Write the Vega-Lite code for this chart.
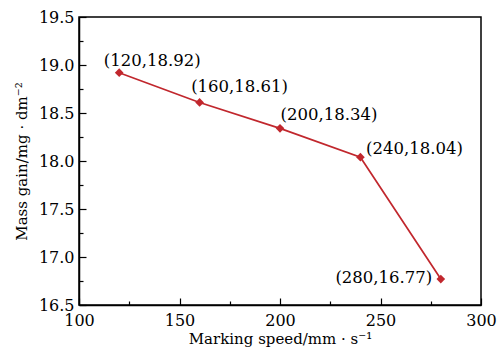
{
  "$schema": "https://vega.github.io/schema/vega-lite/v6.json",
  "width": 402,
  "height": 288,
  "autosize": {"type": "none"},
  "padding": {"left": 79, "top": 17, "right": 22, "bottom": 45},
  "background": "white",
  "config": {
    "view": {"stroke": "black", "strokeWidth": 1.5},
    "font": "DejaVu Serif",
    "axis": {
      "domainColor": "black",
      "domainWidth": 1.5,
      "tickColor": "black",
      "tickWidth": 1.2,
      "grid": false,
      "labelColor": "black",
      "labelFontSize": 16,
      "labelFont": "DejaVu Serif",
      "titleFont": "DejaVu Serif",
      "titleFontSize": 15,
      "titleFontWeight": "normal",
      "titleColor": "black"
    }
  },
  "data": {
    "values": [
      {"speed": 120, "gain": 18.92, "label": "(120,18.92)"},
      {"speed": 160, "gain": 18.61, "label": "(160,18.61)"},
      {"speed": 200, "gain": 18.34, "label": "(200,18.34)"},
      {"speed": 240, "gain": 18.04, "label": "(240,18.04)"},
      {"speed": 280, "gain": 16.77, "label": "(280,16.77)"}
    ]
  },
  "encoding": {
    "x": {
      "field": "speed",
      "type": "quantitative",
      "scale": {"domain": [100, 300], "nice": false, "zero": false},
      "axis": {
        "title": "Marking speed/mm · s⁻¹",
        "values": [100, 125, 150, 175, 200, 225, 250, 275, 300],
        "labelExpr": "datum.value % 50 === 0 ? datum.label : ''",
        "tickSize": {"condition": {"test": "datum.value % 50 !== 0", "value": -4}, "value": -7},
        "labelPadding": 14,
        "titlePadding": 3,
        "labelFlush": false
      }
    },
    "y": {
      "field": "gain",
      "type": "quantitative",
      "scale": {"domain": [16.5, 19.5], "nice": false, "zero": false},
      "axis": {
        "title": "Mass gain/mg · dm⁻²",
        "values": [16.5, 16.75, 17, 17.25, 17.5, 17.75, 18, 18.25, 18.5, 18.75, 19, 19.25, 19.5],
        "format": ".1f",
        "labelExpr": "(datum.value * 2) % 1 === 0 ? datum.label : ''",
        "tickSize": {"condition": {"test": "(datum.value * 2) % 1 !== 0", "value": -4}, "value": -7},
        "labelPadding": 12,
        "titlePadding": 9,
        "labelFlush": false
      }
    }
  },
  "layer": [
    {"mark": {"type": "line", "color": "#c1272d", "strokeWidth": 1.7}},
    {"mark": {"type": "point", "shape": "diamond", "filled": true, "color": "#c1272d", "size": 75, "opacity": 1}},
    {
      "transform": [{"filter": "datum.speed === 120"}],
      "mark": {"type": "text", "fontSize": 16.5, "dx": 33, "dy": -12, "color": "black"},
      "encoding": {"text": {"field": "label"}}
    },
    {
      "transform": [{"filter": "datum.speed === 160"}],
      "mark": {"type": "text", "fontSize": 16.5, "dx": 40, "dy": -15, "color": "black"},
      "encoding": {"text": {"field": "label"}}
    },
    {
      "transform": [{"filter": "datum.speed === 200"}],
      "mark": {"type": "text", "fontSize": 16.5, "dx": 49, "dy": -13, "color": "black"},
      "encoding": {"text": {"field": "label"}}
    },
    {
      "transform": [{"filter": "datum.speed === 240"}],
      "mark": {"type": "text", "fontSize": 16.5, "dx": 54, "dy": -8, "color": "black"},
      "encoding": {"text": {"field": "label"}}
    },
    {
      "transform": [{"filter": "datum.speed === 280"}],
      "mark": {"type": "text", "fontSize": 16.5, "dx": -57, "dy": -1, "color": "black"},
      "encoding": {"text": {"field": "label"}}
    }
  ]
}
